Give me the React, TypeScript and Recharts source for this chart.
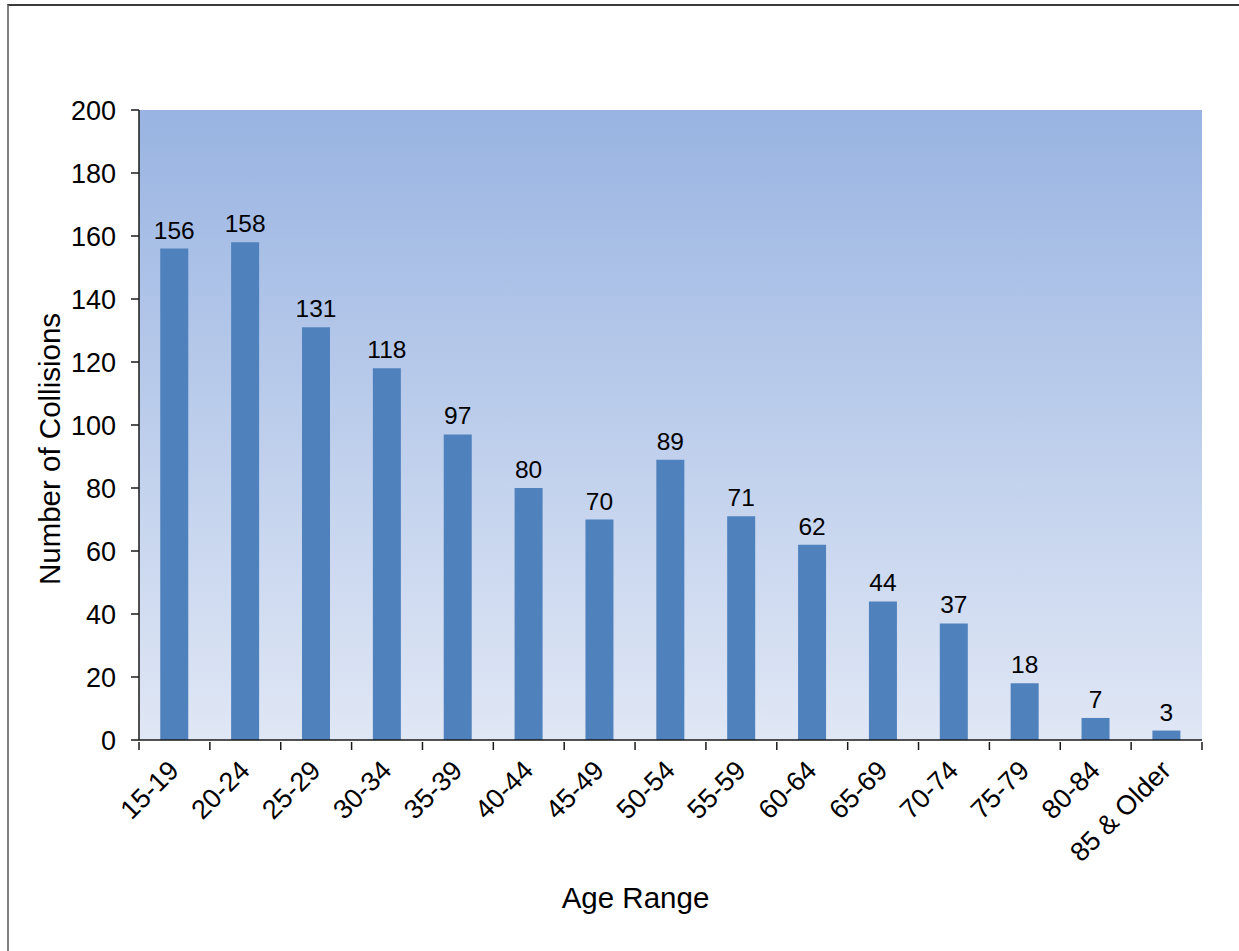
import React from "react";
import {
  BarChart,
  Bar,
  XAxis,
  YAxis,
  CartesianGrid,
  LabelList,
} from "recharts";

const ageRanges = [
  "15-19",
  "20-24",
  "25-29",
  "30-34",
  "35-39",
  "40-44",
  "45-49",
  "50-54",
  "55-59",
  "60-64",
  "65-69",
  "70-74",
  "75-79",
  "80-84",
  "85 & Older",
];
const collisions = [156, 158, 131, 118, 97, 80, 70, 89, 71, 62, 44, 37, 18, 7, 3];
const yTicks = [0, 20, 40, 60, 80, 100, 120, 140, 160, 180, 200];

const data = ageRanges.map((age, i) => ({ age, collisions: collisions[i] }));

const FONT = "'Liberation Sans', Arial, Helvetica, sans-serif";
const AXIS = "#1a1a1a";

function AgeTick(props: any) {
  const { x, y, payload, index } = props;
  const half = payload?.offset ?? 35.4;
  const last = index === ageRanges.length - 1;
  const tx = x + 6;
  const ty = y + 30;
  return (
    <g>
      <line x1={x - half} x2={x - half} y1={y} y2={y + 8} stroke={AXIS} strokeWidth={1.5} />
      {last && (
        <line x1={x + half} x2={x + half} y1={y} y2={y + 8} stroke={AXIS} strokeWidth={1.5} />
      )}
      <text
        x={tx}
        y={ty}
        textAnchor="end"
        transform={`rotate(-45, ${tx}, ${ty})`}
        fontSize={27}
        fontFamily={FONT}
        fill="#000"
      >
        {payload.value}
      </text>
    </g>
  );
}

function YTitle(props: any) {
  const vb = props.viewBox;
  const cx = vb.x + 49;
  const cy = vb.y + vb.height / 2 + 24;
  return (
    <text
      x={cx}
      y={cy}
      textAnchor="middle"
      dominantBaseline="central"
      transform={`rotate(-90, ${cx}, ${cy})`}
      fontSize={29.5}
      fontFamily={FONT}
      fill="#000"
    >
      Number of Collisions
    </text>
  );
}

function XTitle(props: any) {
  const vb = props.viewBox;
  return (
    <text
      x={vb.x + vb.width / 2 - 35}
      y={vb.y + 168}
      textAnchor="middle"
      fontSize={29.5}
      fontFamily={FONT}
      fill="#000"
    >
      Age Range
    </text>
  );
}

export default function App() {
  return (
    <div style={{ position: "relative", width: 1239, height: 951, overflow: "hidden", background: "#fff" }}>
      <style>{`body{margin:0}`}</style>
      <div
        style={{
          position: "absolute",
          left: 7,
          top: 4,
          width: 1260,
          height: 980,
          borderLeft: "2px solid #808080",
          borderTop: "2px solid #3a3a3a",
        }}
      />
      <div style={{ position: "absolute", left: 0, top: 0 }}>
        <BarChart
          width={1239}
          height={951}
          data={data}
          margin={{ top: 110, right: 37, left: 0, bottom: 0 }}
          barCategoryGap="30%"
        >
          <defs>
            <linearGradient id="plotBg" x1="0" y1="0" x2="0" y2="1">
              <stop offset="0%" stopColor="#99b4e2" />
              <stop offset="100%" stopColor="#e0e7f5" />
            </linearGradient>
          </defs>
          <CartesianGrid horizontal={false} vertical={false} fill="url(#plotBg)" fillOpacity={1} />
          <XAxis
            dataKey="age"
            interval={0}
            height={211}
            tickSize={0}
            tickLine={false}
            axisLine={{ stroke: AXIS, strokeWidth: 1.5 }}
            tick={<AgeTick />}
            label={<XTitle />}
          />
          <YAxis
            width={139}
            domain={[0, 200]}
            ticks={yTicks}
            interval={0}
            tickSize={8}
            tickMargin={15}
            axisLine={{ stroke: AXIS, strokeWidth: 1.5 }}
            tickLine={{ stroke: AXIS, strokeWidth: 1.5 }}
            tick={{ fontSize: 27, fontFamily: FONT, fill: "#000" }}
            label={<YTitle />}
          />
          <Bar dataKey="collisions" fill="#4f81bd" isAnimationActive={false}>
            <LabelList
              dataKey="collisions"
              position="top"
              offset={10}
              style={{ fontSize: 24.5, fontFamily: FONT, fill: "#000" }}
            />
          </Bar>
        </BarChart>
      </div>
    </div>
  );
}
